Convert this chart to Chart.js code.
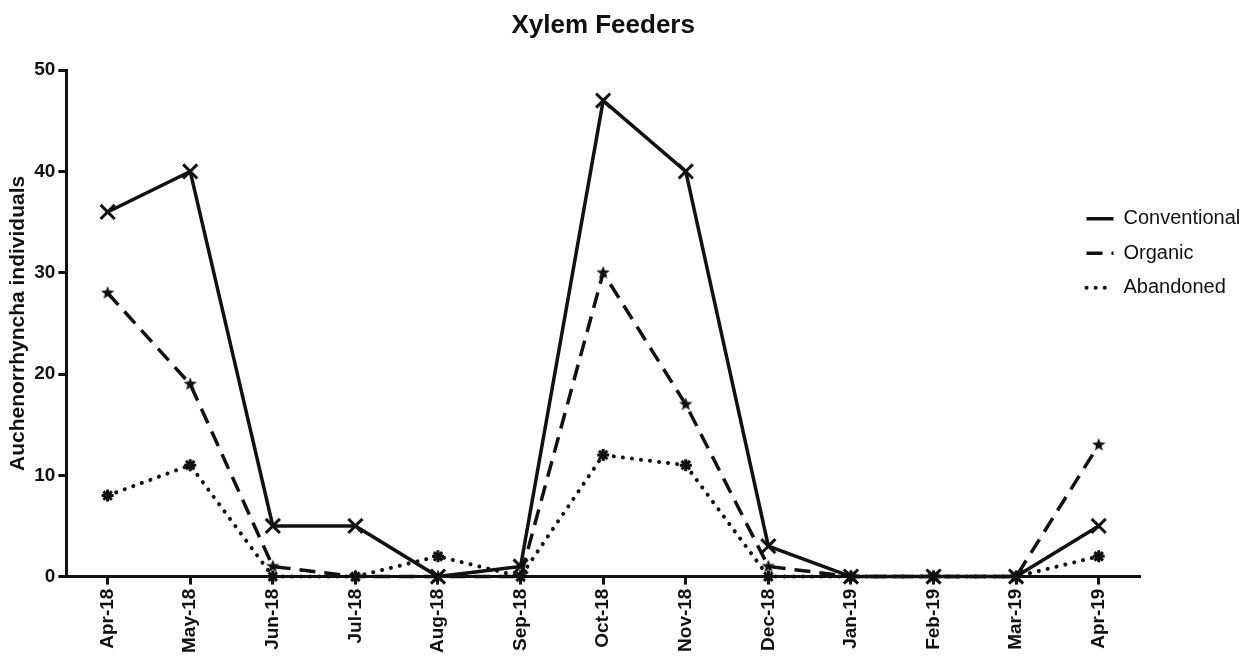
<!DOCTYPE html>
<html>
<head>
<meta charset="utf-8">
<script src="https://cdn.jsdelivr.net/npm/chart.js@4.4.0/dist/chart.umd.min.js"></script>
<style>
  html, body { margin: 0; padding: 0; background: #fff; }
  #wrap { width: 1257px; height: 664px; }
</style>
</head>
<body>
<div id="wrap"><canvas id="chart" width="1257" height="664"></canvas></div>
<script>
// ================= DATA =================
const months = ["Apr-18", "May-18", "Jun-18", "Jul-18", "Aug-18", "Sep-18", "Oct-18",
                "Nov-18", "Dec-18", "Jan-19", "Feb-19", "Mar-19", "Apr-19"];
const conventional = [36, 40, 5, 5, 0, 1, 47, 40, 3, 0, 0, 0, 5];
const organic      = [28, 19, 1, 0, 0, 0, 30, 17, 1, 0, 0, 0, 13];
const abandoned    = [8, 11, 0, 0, 2, 0, 12, 11, 0, 0, 0, 0, 2];
const yMin = 0, yMax = 50, yStep = 10;

const INK = "#111";
const FONT = "'Liberation Sans', Arial, sans-serif";

// ================= MARKERS =================
// small filled 5-point star for the Organic series
function starMarker(r) {
  const c = document.createElement("canvas");
  const s = r * 2 + 2;
  c.width = s; c.height = s;
  const g = c.getContext("2d");
  g.fillStyle = INK;
  g.beginPath();
  for (let i = 0; i < 10; i++) {
    const a = -Math.PI / 2 + i * Math.PI / 5;
    const rr = i % 2 ? r * 0.42 : r;
    g.lineTo(s / 2 + rr * Math.cos(a), s / 2 + rr * Math.sin(a));
  }
  g.closePath();
  g.fill();
  return c;
}

// ================= LEGEND =================
// line samples take the dataset's own dash / width
function legendLabels(chart) {
  const items = Chart.defaults.plugins.legend.labels.generateLabels(chart);
  items.forEach(item => {
    const ds = chart.data.datasets[item.datasetIndex];
    item.lineDash = ds.borderDash || [];
    item.lineWidth = ds.borderWidth;
    item.lineCap = ds.borderCapStyle || "butt";
    item.strokeStyle = ds.borderColor;
    item.pointStyle = "line";
  });
  return items;
}

// legend overlaps the right end of the plot, a bit above the middle
const legendShift = {
  id: "legendShift",
  afterLayout(chart) {
    const l = chart.legend;
    l.left = chart.chartArea.right - 68;
    l.right = chart.width;
    l.width = l.right - l.left;
    l.top = chart.chartArea.top + 124;
    l.bottom = chart.height;
    l.height = l.bottom - l.top;
  }
};

// ================= CHART =================
new Chart(document.getElementById("chart"), {
  type: "line",
  data: {
    labels: months,
    datasets: [
      {
        label: "Conventional",
        data: conventional,
        borderColor: INK,
        backgroundColor: INK,
        borderWidth: 3.5,
        pointStyle: "crossRot",
        pointRadius: 10,
        pointBorderWidth: 3,
        clip: false
      },
      {
        label: "Organic",
        data: organic,
        borderColor: INK,
        backgroundColor: INK,
        borderWidth: 3.5,
        borderDash: [16, 9],
        pointStyle: starMarker(7),
        clip: false
      },
      {
        label: "Abandoned",
        data: abandoned,
        borderColor: INK,
        backgroundColor: INK,
        borderWidth: 4,
        borderDash: [0.1, 9],
        borderCapStyle: "round",
        pointStyle: "star",
        pointRadius: 6,
        pointBorderWidth: 3,
        clip: false
      }
    ]
  },
  options: {
    responsive: false,
    animation: false,
    layout: { padding: { left: 6, right: 0, top: 0, bottom: 7 } },
    plugins: {
      title: {
        display: true,
        text: "Xylem Feeders",
        fullSize: false,
        color: INK,
        font: { family: FONT, size: 26, weight: "bold" },
        padding: { top: 10, bottom: 29 }
      },
      legend: {
        position: "right",
        align: "start",
        maxWidth: 117,
        labels: {
          color: INK,
          font: { family: FONT, size: 20 },
          usePointStyle: true,
          pointStyle: "line",
          pointStyleWidth: 27,
          padding: 14.5,
          generateLabels: legendLabels
        }
      },
      tooltip: { enabled: false }
    },
    scales: {
      x: {
        offset: true,
        grid: {
          display: true,
          drawOnChartArea: false,
          drawTicks: true,
          tickLength: 8,
          tickWidth: 3,
          tickColor: INK,
          offset: false
        },
        border: { display: true, width: 3, color: INK },
        ticks: {
          autoSkip: false,
          minRotation: 90,
          maxRotation: 90,
          color: INK,
          padding: 4,
          font: { family: FONT, size: 19, weight: "bold" }
        }
      },
      y: {
        min: yMin,
        max: yMax,
        grid: {
          display: true,
          drawOnChartArea: false,
          drawTicks: true,
          tickLength: 8,
          tickWidth: 3,
          tickColor: INK
        },
        border: { display: true, width: 3, color: INK },
        ticks: {
          stepSize: yStep,
          color: INK,
          padding: 3,
          font: { family: FONT, size: 19, weight: "bold" }
        },
        title: {
          display: true,
          text: "Auchenorrhyncha individuals",
          color: INK,
          font: { family: FONT, size: 21, weight: "bold" },
          padding: { top: 0, bottom: 0 }
        }
      }
    }
  },
  plugins: [legendShift]
});
</script>
</body>
</html>
